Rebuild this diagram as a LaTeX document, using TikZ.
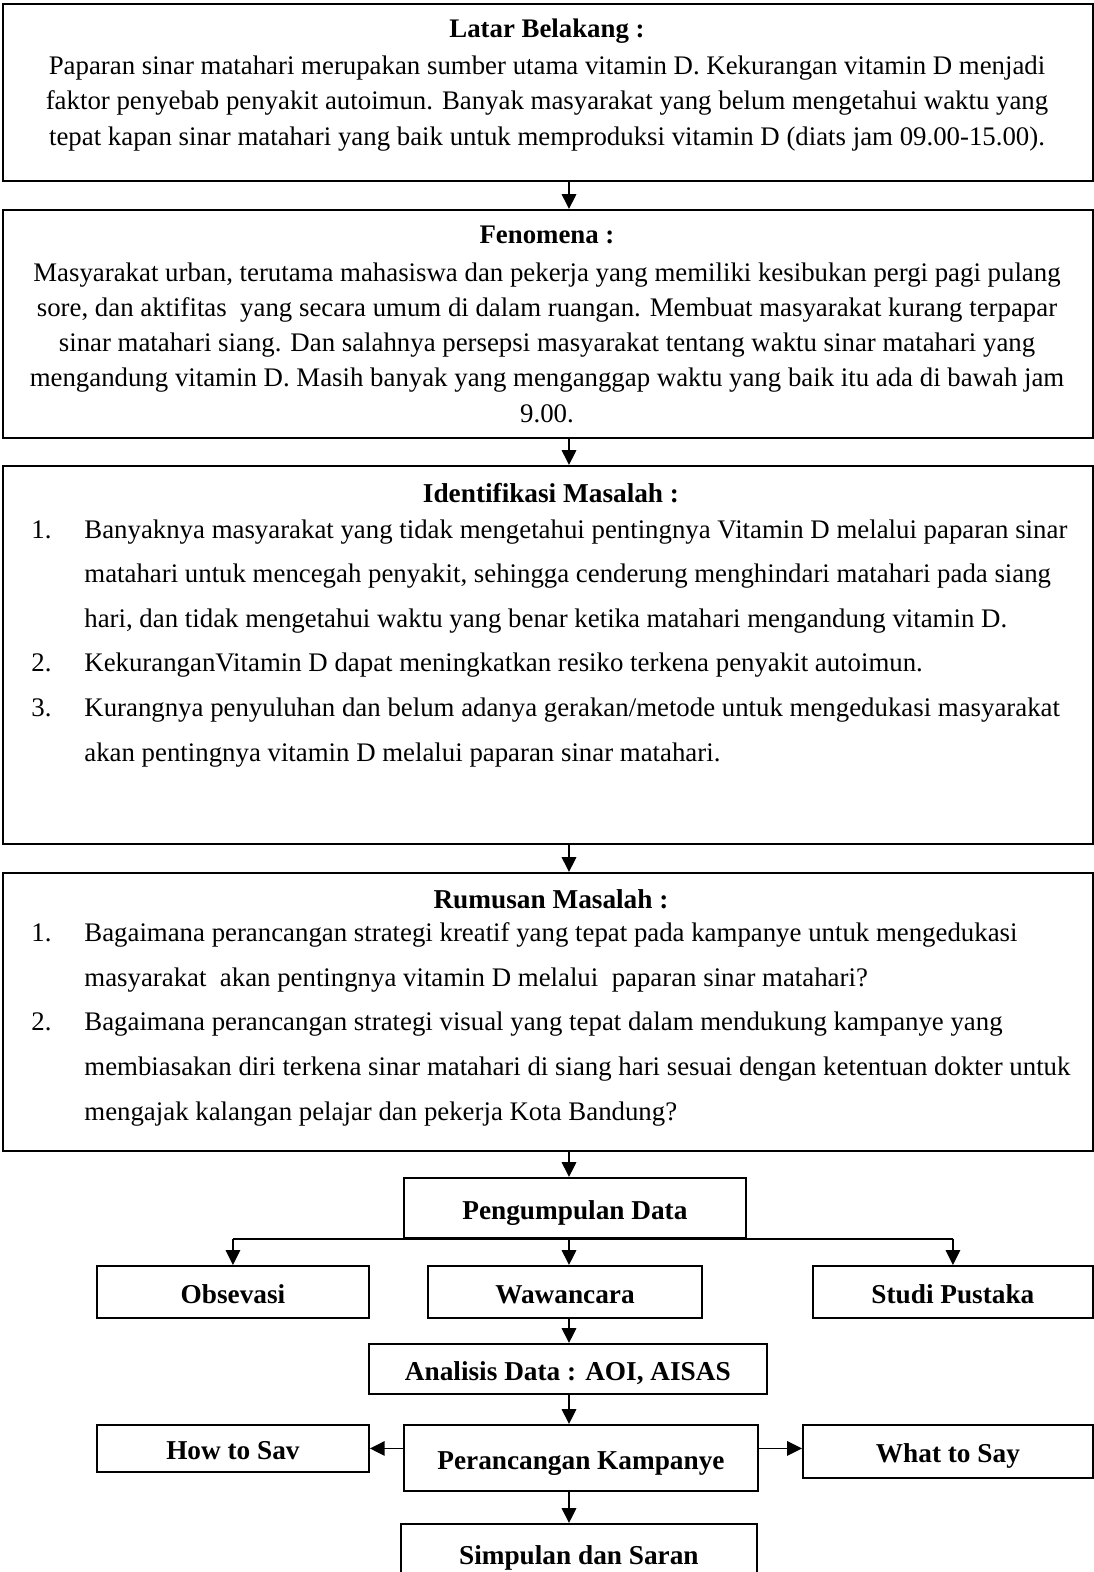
\documentclass[tikz,border=0pt]{standalone}
\usepackage{fontspec}
\setmainfont{Liberation Serif}
\usetikzlibrary{arrows.meta,positioning,calc}
\newcommand{\listnum}[1]{\makebox[23.3pt][l]{#1}}
\newcommand{\listcont}{\hspace*{23.3pt}}

\begin{document}
\begin{tikzpicture}[x=0.44pt,y=-0.44pt,
    box/.style={draw,line width=0.8pt,inner sep=0pt,anchor=north west,text height=10.5pt,text depth=0.5pt,font=\fontsize{12}{14}\selectfont\bfseries},
    para/.style={inner sep=0pt,align=center,anchor=base,font=\fontsize{11.8}{15.5}\selectfont},
    head/.style={inner sep=0pt,anchor=base,font=\fontsize{12}{14}\selectfont\bfseries},
    listtxt/.style={inner sep=0pt,align=left,anchor=base west,font=\fontsize{11.8}{19.6}\selectfont},
    arr/.style={-{Triangle[length=6.5pt,width=6.3pt]},line width=0.8pt}]
  \useasboundingbox (0,0) rectangle (1094,1572);
  \coordinate (spine) at (569,0);

  % big boxes
  \node[box,minimum width=479.6pt,minimum height=77.9pt] (latar) at (2,3) {};
  \node[box,minimum width=479.6pt,minimum height=100.3pt] (fenomena) at (2,209) {};
  \node[box,minimum width=479.6pt,minimum height=166.3pt] (identifikasi) at (2,465) {};
  \node[box,minimum width=479.6pt,minimum height=122.3pt] (rumusan) at (2,872) {};

  % anchor base = last line
  \node[para] (latartxt) at (547,145) {\textbf{Latar Belakang :}\\[0.8pt]
    Paparan sinar matahari merupakan sumber utama vitamin D. Kekurangan vitamin D menjadi\\
    faktor penyebab penyakit autoimun. Banyak masyarakat yang belum mengetahui waktu yang\\
    tepat kapan sinar matahari yang baik untuk memproduksi vitamin D (diats jam 09.00-15.00).};
  \node[para] (fenomenatxt) at (547,422) {\textbf{Fenomena :}\\[1.2pt]
    Masyarakat urban, terutama mahasiswa dan pekerja yang memiliki kesibukan pergi pagi pulang\\
    sore, dan aktifitas\ \ yang secara umum di dalam ruangan. Membuat masyarakat kurang terpapar\\
    sinar matahari siang. Dan salahnya persepsi masyarakat tentang waktu sinar matahari yang\\
    mengandung vitamin D. Masih banyak yang menganggap waktu yang baik itu ada di bawah jam\\
    9.00.};

  \node[head] (identhead) at (551,502) {Identifikasi Masalah :};
  \node[listtxt] (identlist) at (31,761) {%
    \listnum{1.}Banyaknya masyarakat yang tidak mengetahui pentingnya Vitamin D melalui paparan sinar\\
    \listcont matahari untuk mencegah penyakit, sehingga cenderung menghindari matahari pada siang\\
    \listcont hari, dan tidak mengetahui waktu yang benar ketika matahari mengandung vitamin D.\\
    \listnum{2.}KekuranganVitamin D dapat meningkatkan resiko terkena penyakit autoimun.\\
    \listnum{3.}Kurangnya penyuluhan dan belum adanya gerakan/metode untuk mengedukasi masyarakat\\
    \listcont akan pentingnya vitamin D melalui paparan sinar matahari.};

  \node[head] (rumushead) at (551,908) {Rumusan Masalah :};
  \node[listtxt] (rumuslist) at (31,1120) {%
    \listnum{1.}Bagaimana perancangan strategi kreatif yang tepat pada kampanye untuk mengedukasi\\
    \listcont masyarakat\ \ akan pentingnya vitamin D melalui\ \ paparan sinar matahari?\\
    \listnum{2.}Bagaimana perancangan strategi visual yang tepat dalam mendukung kampanye yang\\
    \listcont membiasakan diri terkena sinar matahari di siang hari sesuai dengan ketentuan dokter untuk\\
    \listcont mengajak kalangan pelajar dan pekerja Kota Bandung?};

  % small boxes
  \node[box,minimum width=150.5pt,minimum height=26.4pt] (pengumpulan) at (403,1177) {Pengumpulan Data};
  \node[box,minimum width=119.7pt,minimum height=22.9pt] (obsevasi) at (96,1265) {Obsevasi};
  \node[box,minimum width=120.6pt,minimum height=22.9pt] (wawancara) at (427,1265) {Wawancara};
  \node[box,minimum width=123.2pt,minimum height=22.9pt] (studi) at (812,1265) {Studi Pustaka};
  \node[box,minimum width=175.1pt,minimum height=22pt] (analisis) at (368,1343) {Analisis Data : AOI, AISAS};
  \node[box,minimum width=119.7pt,minimum height=20.7pt] (howto) at (96,1424) {How to Sav};
  \node[box,minimum width=155.8pt,minimum height=29pt] (perancangan) at (403,1424) {Perancangan Kampanye};
  \node[box,minimum width=127.6pt,minimum height=23.3pt] (whatto) at (802,1424) {What to Say};
  \node[box,minimum width=156.6pt,minimum height=25.5pt] (simpulan) at (400,1523) {Simpulan dan Saran};

  % connectors
  \draw[arr] (latar.south -| spine) -- (fenomena.north -| spine);
  \draw[arr] (fenomena.south -| spine) -- (identifikasi.north -| spine);
  \draw[arr] (identifikasi.south -| spine) -- (rumusan.north -| spine);
  \draw[arr] (rumusan.south -| spine) -- (pengumpulan.north -| spine);
  \draw[line width=0.8pt] (pengumpulan.south -| obsevasi) -- (pengumpulan.south -| studi);
  \draw[arr] (pengumpulan.south -| obsevasi) -- (obsevasi.north);
  \draw[arr] (pengumpulan.south -| spine) -- (wawancara.north -| spine);
  \draw[arr] (pengumpulan.south -| studi) -- (studi.north);
  \draw[arr] (wawancara.south -| spine) -- (analisis.north -| spine);
  \draw[arr] (analisis.south -| spine) -- (perancangan.north -| spine);
  \draw[arr] (perancangan.west |- howto) -- (howto.east);
  \draw[arr] (perancangan.east |- howto) -- (whatto.west |- howto);
  \draw[arr] (perancangan.south -| spine) -- (simpulan.north -| spine);
\end{tikzpicture}
\end{document}
